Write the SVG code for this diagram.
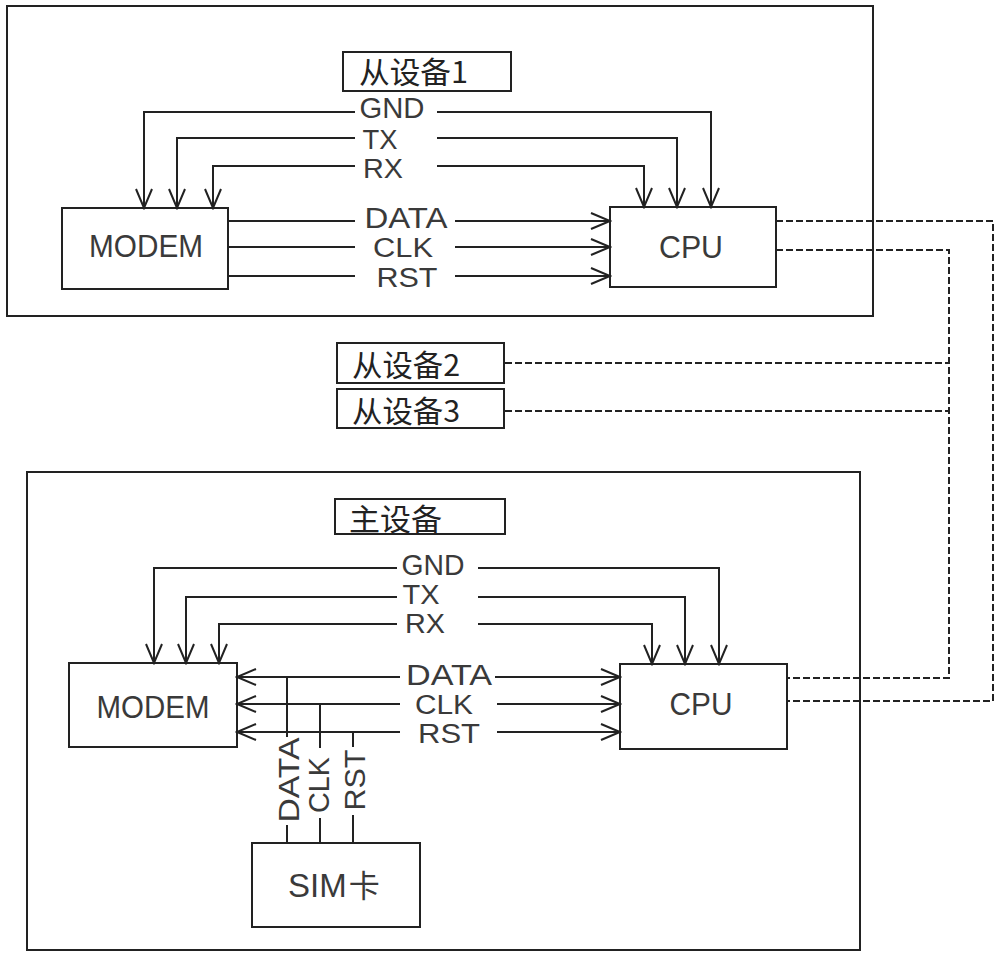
<svg xmlns="http://www.w3.org/2000/svg" width="1000" height="958" viewBox="0 0 1000 958">
<style>
.box{fill:none;stroke:#222;stroke-width:2}
.ln{fill:none;stroke:#222;stroke-width:2}
.arr{marker-end:url(#ah)}
.dash{fill:none;stroke:#222;stroke-width:2;stroke-dasharray:7 3}
.t{font-family:"Liberation Sans",Arial,sans-serif;font-size:29px;fill:#3a3a3a;text-anchor:middle}
.s{font-size:27px}
.cn{font-family:"Noto Sans CJK SC","Noto Sans",sans-serif;font-size:30px;fill:#222}
</style>
<defs>
<marker id="ah" markerUnits="userSpaceOnUse" markerWidth="22" markerHeight="20" refX="20" refY="9" orient="auto-start-reverse">
<path d="M1,1 L20,9 L1,17" fill="none" stroke="#222" stroke-width="2"/>
</marker>
</defs>
<rect width="1000" height="958" fill="#fff"/>

<g id="slave1">
<rect class="box" x="7" y="6" width="866" height="310"/>
<g id="slave1-title"><rect class="box" x="343" y="52" width="168" height="39"/><text class="cn" x="359" y="83" textLength="109" lengthAdjust="spacingAndGlyphs">从设备1</text></g>
<g id="slave1-modem"><rect class="box" x="62" y="208" width="166" height="81"/><text class="t" x="146" y="257" style="font-size:32px" textLength="114" lengthAdjust="spacingAndGlyphs">MODEM</text></g>
<g id="slave1-cpu"><rect class="box" x="610" y="207" width="166" height="80"/><text class="t" x="691" y="258" style="font-size:32px" textLength="64" lengthAdjust="spacingAndGlyphs">CPU</text></g>
</g>

<g id="slave2"><rect class="box" x="337" y="343" width="167" height="40"/><text class="cn" x="352" y="376" textLength="108" lengthAdjust="spacingAndGlyphs">从设备2</text></g>
<g id="slave3"><rect class="box" x="337" y="389" width="167" height="39"/><text class="cn" x="352" y="422" textLength="108" lengthAdjust="spacingAndGlyphs">从设备3</text></g>

<g id="master">
<rect class="box" x="27" y="472" width="833" height="478"/>
<g id="master-title"><rect class="box" x="335" y="499" width="170" height="35"/><text class="cn" x="349" y="530" textLength="93" lengthAdjust="spacingAndGlyphs">主设备</text></g>
<g id="master-modem"><rect class="box" x="69" y="663" width="168" height="84"/><text class="t" x="153" y="718" style="font-size:32px" textLength="113" lengthAdjust="spacingAndGlyphs">MODEM</text></g>
<g id="master-cpu"><rect class="box" x="620" y="664" width="167" height="85"/><text class="t" x="701" y="715" style="font-size:32px" textLength="63" lengthAdjust="spacingAndGlyphs">CPU</text></g>
<g id="sim"><rect class="box" x="252" y="843" width="168" height="84"/><text class="t" x="288" y="897" style="text-anchor:start;font-size:33px">SIM<tspan style="font-family:'Noto Sans CJK SC',sans-serif;font-size:31px" dx="2">卡</tspan></text></g>
</g>

<g id="labels">
<text class="t" x="392" y="118" textLength="65" lengthAdjust="spacingAndGlyphs">GND</text>
<text class="t s" x="380" y="149" textLength="35" lengthAdjust="spacingAndGlyphs">TX</text>
<text class="t s" x="383" y="178" textLength="40" lengthAdjust="spacingAndGlyphs">RX</text>
<text class="t" x="406" y="228" textLength="83" lengthAdjust="spacingAndGlyphs">DATA</text>
<text class="t s" x="403" y="257" textLength="60" lengthAdjust="spacingAndGlyphs">CLK</text>
<text class="t s" x="407" y="287" textLength="61" lengthAdjust="spacingAndGlyphs">RST</text>

<text class="t" x="433" y="575" textLength="63" lengthAdjust="spacingAndGlyphs">GND</text>
<text class="t s" x="421" y="604" textLength="37" lengthAdjust="spacingAndGlyphs">TX</text>
<text class="t s" x="425" y="633" textLength="40" lengthAdjust="spacingAndGlyphs">RX</text>
<text class="t" x="449" y="685" textLength="86" lengthAdjust="spacingAndGlyphs">DATA</text>
<text class="t s" x="444" y="714" textLength="58" lengthAdjust="spacingAndGlyphs">CLK</text>
<text class="t s" x="449" y="743" textLength="62" lengthAdjust="spacingAndGlyphs">RST</text>

<text class="t" transform="translate(299,780) rotate(-90)" textLength="85" lengthAdjust="spacingAndGlyphs">DATA</text>
<text class="t" transform="translate(329,785) rotate(-90)" textLength="56" lengthAdjust="spacingAndGlyphs">CLK</text>
<text class="t" transform="translate(365,780) rotate(-90)" textLength="61" lengthAdjust="spacingAndGlyphs">RST</text>
</g>

<g id="connectors">
<path class="ln arr" d="M355,112 H144 V208"/>
<path class="ln arr" d="M355,138 H177 V208"/>
<path class="ln arr" d="M355,166 H213 V208"/>
<path class="ln arr" d="M437,112 H711 V207"/>
<path class="ln arr" d="M437,138 H677 V207"/>
<path class="ln arr" d="M437,166 H644 V207"/>
<path class="ln" d="M228,221 H355 M228,247 H355 M228,276 H355"/>
<path class="ln arr" d="M455,221 H610"/>
<path class="ln arr" d="M455,247 H610"/>
<path class="ln arr" d="M455,276 H610"/>

<path class="ln arr" d="M397,568 H154 V663"/>
<path class="ln arr" d="M397,597 H186 V663"/>
<path class="ln arr" d="M397,624 H219 V663"/>
<path class="ln arr" d="M478,568 H719 V664"/>
<path class="ln arr" d="M478,597 H685 V664"/>
<path class="ln arr" d="M478,624 H652 V664"/>
<path class="ln" marker-start="url(#ah)" d="M237,677 H400"/>
<path class="ln" marker-start="url(#ah)" d="M237,704 H400"/>
<path class="ln" marker-start="url(#ah)" d="M237,732 H400"/>
<path class="ln arr" d="M495,677 H620"/>
<path class="ln arr" d="M497,704 H620"/>
<path class="ln arr" d="M497,732 H620"/>
<path class="ln" d="M287,677 V737 M287,825 V843 M320,704 V748 M320,818 V843 M353,732 V747 M353,815 V843"/>

<path class="dash" d="M776,221 H993 V701 H787"/>
<path class="dash" d="M776,250 H949 V678 H787"/>
<path class="dash" d="M505,363 H949"/>
<path class="dash" d="M505,411 H949"/>
</g>
</svg>
